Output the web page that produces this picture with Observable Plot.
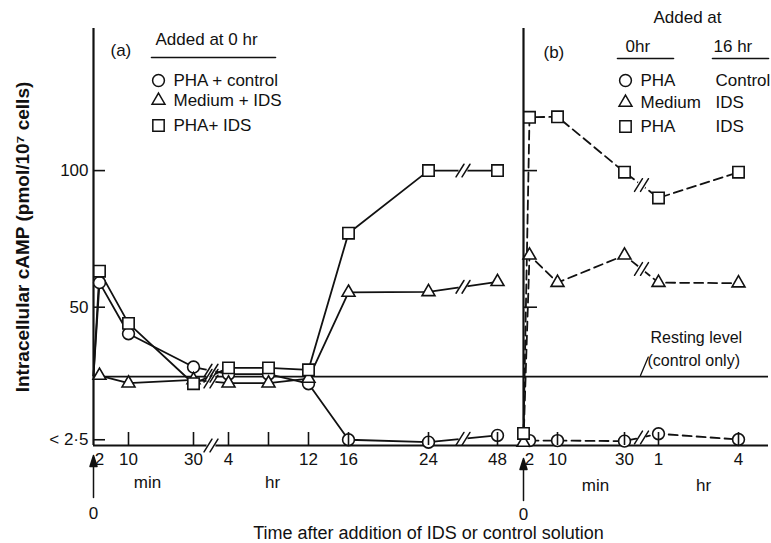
<!DOCTYPE html>
<html><head><meta charset="utf-8">
<script src="https://cdn.jsdelivr.net/npm/d3@7"></script>
<script src="https://cdn.jsdelivr.net/npm/@observablehq/plot@0.6"></script>
<style>
html,body{margin:0;padding:0;background:#fff;}
#chart{position:relative;width:771px;height:543px;overflow:hidden;background:#fff;}
#chart svg{position:absolute;left:0;top:0;}
</style></head><body><div id="chart"></div>
<script>
// ---------------- data ----------------
// Panel (a): minutes after addition at 0 hr (time 0 = starting level, line only)
const timeA = [0, 2, 10, 30, 240, 480, 720, 960, 1440, 2880];
const phaControlA = [25, 59, 40.3, 28.1, 25.5, 25.5, 22, 1.5, 0.6, 3.1];
const mediumIdsA  = [25, 25, 22.2, 23.4, 22.2, 22.2, 23.9, 55.4, 55.6, 59.3];
const phaIdsA     = [25, 63.2, 44.1, 22, 27.8, 27.8, 27.1, 77.1, 100, 100];
// Panel (b): minutes after addition at 16 hr
const timeB = [0, 2, 10, 30, 60, 240];
const phaControlB = [null, 1.2, 1.2, 1, 3.7, 1.6];
const mediumIdsB  = [0.5, 69, 59, 69, 59, 58.8];
const phaIdsB     = [3.8, 119.5, 119.7, 99.4, 90, 99.4];
const restingLevel = 24.6;
// axis breaks (between these times)
const gapsA = [[30, 240], [1440, 2880]];
const gapsB = [[30, 60]];
// tick values and labels
const tickValsA = [2, 10, 30, 240, 720, 960, 1440, 2880];
const tickLabelsA = ["2", "10", "30", "4", "12", "16", "24", "48"];
const tickMarksA = [10, 30, 240, 480, 720, 960, 1440, 2880];
const tickValsB = [2, 10, 30, 60, 240];
const tickLabelsB = ["2", "10", "30", "1", "4"];
const tickMarksB = [10, 30, 60, 240];
const yTicksA = [1.5, 50, 100];
const yTickLabelsA = ["< 2·5", "50", "100"];
const yTicksB = [50, 100];
// legend texts
const legendA = ["PHA + control", "Medium + IDS", "PHA+ IDS"];
const legendB0 = ["PHA", "Medium", "PHA"];
const legendB16 = ["Control", "IDS", "IDS"];
const symbolsOrder = ["circle", "triangle", "square"];

// ---------------- layout / style ----------------
const W = 771, H = 543, MT = 28, MB = 98;
const ML_A = 93, MR_A = 248, ML_B = 523, MR_B = 3;
const Y_DOMAIN = [-0.6, 152];
const INK = "#111";
const FONT = "'Liberation Sans', Arial, Helvetica, sans-serif";
const R = {circle: 5.9, triangle: 4.8, square: 6.4};
const LW = 1.8;
// broken (piecewise) time axes
const xDomainA = [0, 2, 10, 30, 240, 1440, 2880];
const xStopsA  = [93, 99, 128, 193, 228, 428, 497];
const xDomainB = [0, 2, 10, 30, 60, 240];
const xStopsB  = [523, 529, 557, 624, 658, 738];
const pieceA = d3.scaleLinear().domain(xDomainA).range(xStopsA);
const pieceB = d3.scaleLinear().domain(xDomainB).range(xStopsB);

const seriesA = [
  {symbol: "circle", values: phaControlA},
  {symbol: "triangle", values: mediumIdsA},
  {symbol: "square", values: phaIdsA}
];
const seriesB = [
  {symbol: "circle", values: phaControlB},
  {symbol: "triangle", values: mediumIdsB},
  {symbol: "square", values: phaIdsB}
];

const lineShape = {draw(ctx, l) { ctx.moveTo(0, 0); ctx.lineTo(0, -l); }};
const arrowShape = {draw(ctx, l) {
  ctx.moveTo(0, 0); ctx.lineTo(0, -l + 8);
  ctx.moveTo(0, -l); ctx.lineTo(-3.5, -l + 11); ctx.lineTo(3.5, -l + 11); ctx.closePath();
}};

const rowsOf = (times, s) => times.map((t, i) => ({t, v: s.values[i]})).filter(d => d.v != null);

function breakPoints(times, series, gaps) {
  const out = [];
  for (const [t1, t2] of gaps) {
    const i1 = times.indexOf(t1), i2 = times.indexOf(t2);
    for (const s of series) {
      const v1 = s.values[i1], v2 = s.values[i2];
      if (v1 == null || v2 == null) continue;
      out.push({t: (t1 + t2) / 2, v: (v1 + v2) / 2});
    }
  }
  return out;
}
function breakMarks(pts, extra = {}) {
  const pos = extra.frameAnchor ? {x: "t", ...extra} : {x: "t", y: "v"};
  return [
    Plot.dot(pts, {...pos, r: 4.5, fill: "white", stroke: null}),
    Plot.vector(pts, {...pos, length: 15, rotate: 32, anchor: "middle", shape: lineShape, dx: -3, stroke: INK, strokeWidth: 1.5}),
    Plot.vector(pts, {...pos, length: 15, rotate: 32, anchor: "middle", shape: lineShape, dx: 3, stroke: INK, strokeWidth: 1.5})
  ];
}
const pin = (px, py, ml) => ({frameAnchor: "top-left", dx: px - ml, dy: py - MT});
function label(txt, px, py, ml, opts = {}) {
  return Plot.text([txt], {...pin(px, py, ml), text: d => d, fontSize: 17, fill: INK, textAnchor: "start", lineAnchor: "middle", ...opts});
}
function hline(x1, x2, py, ml) {
  return Plot.vector([0], {...pin(x1, py, ml), length: x2 - x1, rotate: 90, anchor: "start", shape: lineShape, stroke: INK, strokeWidth: 1.6});
}
function legendDot(sym, px, py, ml) {
  return Plot.dot([sym], {...pin(px, py, ml), symbol: sym, r: R[sym], fill: "white", stroke: INK, strokeWidth: 1.5});
}
function seriesMarks(times, series, dash) {
  return series.map(s => Plot.line(rowsOf(times, s), {x: "t", y: "v", stroke: INK, strokeWidth: LW, strokeDasharray: dash}));
}
function dotMarks(times, series, skipOrigin) {
  return series.map(s => Plot.dot(rowsOf(times, s).filter(d => !(skipOrigin && d.t === 0)),
    {x: "t", y: "v", symbol: s.symbol, r: R[s.symbol], fill: "white", stroke: INK, strokeWidth: 1.6}));
}

const labA = new Map(tickValsA.map((v, i) => [v, tickLabelsA[i]]));
const labB = new Map(tickValsB.map((v, i) => [v, tickLabelsB[i]]));
const ylabA = new Map(yTicksA.map((v, i) => [v, yTickLabelsA[i]]));

// ---------------- panel (a) ----------------
const plotA = Plot.plot({
  width: W, height: H,
  marginLeft: ML_A, marginRight: MR_A, marginTop: MT, marginBottom: MB,
  style: {fontFamily: FONT, color: INK, background: "white", overflow: "visible"},
  x: {transform: t => pieceA(t), domain: [ML_A, W - MR_A], range: [ML_A, W - MR_A]},
  y: {domain: Y_DOMAIN},
  marks: [
    Plot.ruleY([restingLevel], {stroke: INK, strokeWidth: LW}),
    ...seriesMarks(timeA, seriesA, null),
    ...breakMarks(breakPoints(timeA, seriesA, gapsA)),
    Plot.ruleY([Y_DOMAIN[0]], {stroke: INK, strokeWidth: 2.2}),
    Plot.ruleX([0], {stroke: INK, strokeWidth: 2.2}),
    ...breakMarks([{t: (gapsA[0][0] + gapsA[0][1]) / 2}], {frameAnchor: "bottom"}),
    ...dotMarks(timeA, seriesA, true),
    Plot.axisX(tickMarksA, {tickSize: -13, tickFormat: () => "", label: null, strokeWidth: 1.6}),
    Plot.axisX(tickValsA, {tickSize: 0, tickPadding: 7, tickFormat: d => labA.get(d), fontSize: 17, label: null, fill: INK}),
    Plot.axisY(yTicksA, {anchor: "left", tickSize: -12, tickPadding: 17, tickFormat: d => ylabA.get(d), fontSize: 17, label: null, strokeWidth: 1.6, fill: INK}),
    // time-zero arrow
    Plot.vector([0], {x: d => d, frameAnchor: "bottom", dy: 52, length: 42, anchor: "start", shape: arrowShape, stroke: INK, fill: INK, strokeWidth: 1.5}),
    Plot.text([0], {x: d => d, frameAnchor: "bottom", dy: 68, text: d => String(d), fontSize: 17, fill: INK, textAnchor: "middle", lineAnchor: "middle"}),
    label("min", 147, 482, ML_A, {textAnchor: "middle"}),
    label("hr", 272, 482, ML_A, {textAnchor: "middle"}),
    // titles
    Plot.text(["Intracellular cAMP (pmol/10⁷ cells)"], {frameAnchor: "left", dx: 22 - ML_A, rotate: -90, text: d => d, fontSize: 19, fontWeight: "bold", fill: INK, textAnchor: "middle", lineAnchor: "middle"}),
    label("Time after addition of IDS or control solution", 428, 533, ML_A, {textAnchor: "middle", fontSize: 18}),
    // legend (a)
    label("(a)", 110, 50, ML_A),
    label("Added at 0 hr", 155, 39, ML_A),
    hline(151, 275, 57, ML_A),
    ...legendA.flatMap((t, i) => [
      legendDot(symbolsOrder[i], 158, [80, 100, 125][i], ML_A),
      label(t, 173, [80, 100, 125][i], ML_A)
    ])
  ]
});

// ---------------- panel (b) ----------------
const plotB = Plot.plot({
  width: W, height: H,
  marginLeft: ML_B, marginRight: MR_B, marginTop: MT, marginBottom: MB,
  style: {fontFamily: FONT, color: INK, background: "transparent", overflow: "visible"},
  x: {transform: t => pieceB(t), domain: [ML_B, W - MR_B], range: [ML_B, W - MR_B]},
  y: {domain: Y_DOMAIN},
  marks: [
    Plot.ruleY([restingLevel], {stroke: INK, strokeWidth: LW}),
    ...seriesMarks(timeB, seriesB, "9,5"),
    ...breakMarks(breakPoints(timeB, seriesB, gapsB)),
    Plot.ruleY([Y_DOMAIN[0]], {stroke: INK, strokeWidth: 2.2}),
    Plot.ruleX([0], {stroke: INK, strokeWidth: 2.2}),
    ...dotMarks(timeB, seriesB, false),
    Plot.axisX(tickMarksB, {tickSize: -13, tickFormat: () => "", label: null, strokeWidth: 1.6}),
    Plot.axisX(tickValsB, {tickSize: 0, tickPadding: 7, tickFormat: d => labB.get(d), fontSize: 17, label: null, fill: INK}),
    Plot.axisY(yTicksB, {anchor: "left", tickSize: -14, tickFormat: () => "", label: null, strokeWidth: 1.6}),
    Plot.vector([0], {x: d => d, frameAnchor: "bottom", dy: 55, length: 42, anchor: "start", shape: arrowShape, stroke: INK, fill: INK, strokeWidth: 1.5}),
    Plot.text([0], {x: d => d, frameAnchor: "bottom", dy: 69, text: d => String(d), fontSize: 17, fill: INK, textAnchor: "middle", lineAnchor: "middle"}),
    label("min", 595, 485, ML_B, {textAnchor: "middle"}),
    label("hr", 703, 485, ML_B, {textAnchor: "middle"}),
    // resting level annotation
    label("Resting level", 650, 337, ML_B, {fontSize: 16}),
    label("(control only)", 647, 360, ML_B, {fontSize: 16}),
    Plot.vector([0], {...pin(640, 375, ML_B), length: 20, rotate: 23, anchor: "start", shape: lineShape, stroke: INK, strokeWidth: 1.3}),
    // legend (b)
    label("(b)", 543, 52, ML_B),
    label("Added at", 687, 17, ML_B, {textAnchor: "middle"}),
    label("0hr", 625, 46, ML_B),
    label("16 hr", 713, 46, ML_B),
    hline(617, 673, 58, ML_B),
    hline(712, 768, 58, ML_B),
    ...legendB0.flatMap((t, i) => [
      legendDot(symbolsOrder[i], 625, [80, 102, 126][i], ML_B),
      label(t, 640, [80, 102, 126][i], ML_B),
      label(legendB16[i], 715, [80, 102, 126][i], ML_B)
    ])
  ]
});

const chart = document.getElementById("chart");
chart.appendChild(plotA);
chart.appendChild(plotB);
</script>
</body></html>
